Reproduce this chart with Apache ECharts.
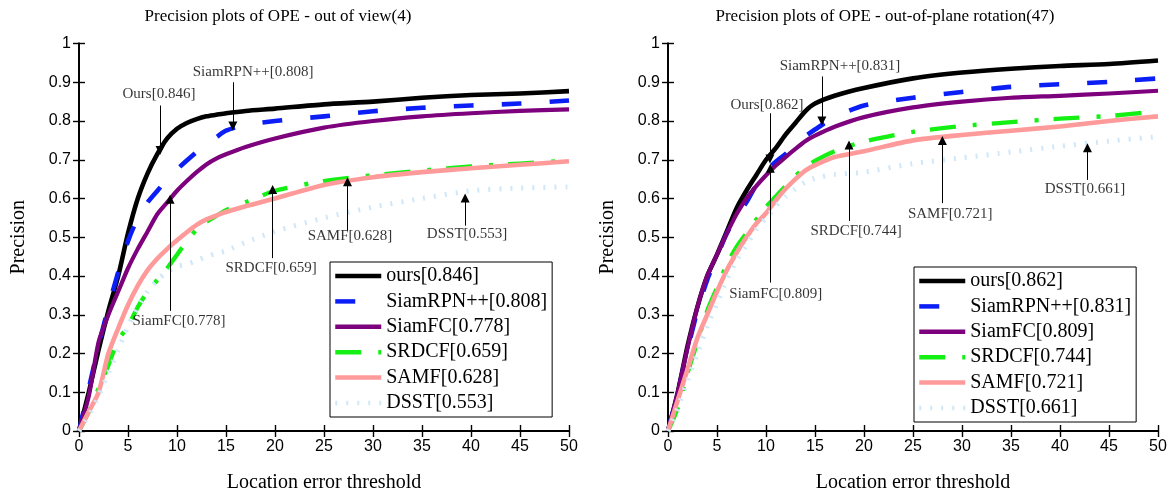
<!DOCTYPE html>
<html>
<head>
<meta charset="utf-8">
<title>Precision plots of OPE</title>
<script src="https://cdn.jsdelivr.net/npm/echarts@6/dist/echarts.min.js"></script>
<style>
  html, body { margin: 0; padding: 0; background: #fff; }
  #chart { width: 1171px; height: 498px; }
</style>
</head>
<body>
<div id="chart"></div>
<script>
// Location error thresholds (pixels) at which precision is sampled
const thresholds = [0, 1, 2, 3, 4, 5, 6, 7, 8, 9, 10, 11, 12, 13, 14, 15, 17, 20, 25, 30, 35, 40, 45, 50];

// ---- Out of view (4) ----
const titleOV = 'Precision plots of OPE - out of view(4)';
const namesOV = ['ours[0.846]', 'SiamRPN++[0.808]', 'SiamFC[0.778]', 'SRDCF[0.659]', 'SAMF[0.628]', 'DSST[0.553]'];
const oursOV     = [0, 0.10, 0.21, 0.31, 0.40, 0.51, 0.60, 0.665, 0.715, 0.755, 0.78, 0.795, 0.805, 0.812, 0.816, 0.82, 0.826, 0.832, 0.843, 0.85, 0.86, 0.867, 0.871, 0.877];
const siamrpnOV  = [0, 0.11, 0.22, 0.32, 0.41, 0.49, 0.55, 0.59, 0.62, 0.65, 0.675, 0.698, 0.72, 0.74, 0.758, 0.775, 0.79, 0.80, 0.812, 0.825, 0.834, 0.84, 0.845, 0.853];
const siamfcOV   = [0, 0.09, 0.23, 0.30, 0.36, 0.42, 0.47, 0.515, 0.56, 0.59, 0.62, 0.645, 0.668, 0.688, 0.703, 0.714, 0.733, 0.755, 0.783, 0.80, 0.812, 0.82, 0.826, 0.83];
const srdcfOV    = [0, 0.05, 0.11, 0.17, 0.235, 0.27, 0.32, 0.36, 0.39, 0.42, 0.455, 0.49, 0.52, 0.54, 0.555, 0.57, 0.59, 0.62, 0.645, 0.66, 0.672, 0.683, 0.69, 0.698];
const samfOV     = [0, 0.05, 0.10, 0.20, 0.265, 0.325, 0.375, 0.415, 0.445, 0.47, 0.492, 0.513, 0.532, 0.546, 0.556, 0.565, 0.58, 0.60, 0.635, 0.655, 0.668, 0.678, 0.687, 0.696];
const dsstOV     = [0, 0.04, 0.09, 0.15, 0.21, 0.27, 0.32, 0.36, 0.39, 0.41, 0.425, 0.43, 0.44, 0.45, 0.458, 0.465, 0.487, 0.515, 0.55, 0.578, 0.60, 0.62, 0.627, 0.63];
// callouts: text, text centre (x, y), arrow x, arrow start y, arrow tip y
const noteTextOV  = ['Ours[0.846]', 'SiamRPN++[0.808]', 'SiamFC[0.778]', 'SRDCF[0.659]', 'SAMF[0.628]', 'DSST[0.553]'];
const noteXOV     = [8.16, 17.76, 10.2, 19.6, 27.65, 39.6];
const noteYOV     = [0.870, 0.926, 0.285, 0.421, 0.504, 0.509];
const arrowXOV    = [8.27, 15.7, 9.29, 19.76, 27.4, 39.4];
const arrowFromOV = [0.84, 0.90, 0.31, 0.446, 0.517, 0.53];
const arrowToOV   = [0.724, 0.787, 0.598, 0.623, 0.643, 0.601];

// ---- Out-of-plane rotation (47) ----
const titleOPR = 'Precision plots of OPE - out-of-plane rotation(47)';
const namesOPR = ['ours[0.862]', 'SiamRPN++[0.831]', 'SiamFC[0.809]', 'SRDCF[0.744]', 'SAMF[0.721]', 'DSST[0.661]'];
const oursOPR    = [0, 0.10, 0.22, 0.32, 0.40, 0.455, 0.515, 0.575, 0.62, 0.66, 0.70, 0.73, 0.765, 0.795, 0.825, 0.845, 0.865, 0.885, 0.91, 0.925, 0.935, 0.942, 0.947, 0.956];
const siamrpnOPR = [0, 0.10, 0.21, 0.31, 0.39, 0.45, 0.51, 0.555, 0.59, 0.635, 0.67, 0.695, 0.715, 0.74, 0.76, 0.778, 0.81, 0.84, 0.86, 0.875, 0.888, 0.895, 0.901, 0.91];
const siamfcOPR  = [0, 0.10, 0.215, 0.32, 0.40, 0.455, 0.51, 0.56, 0.60, 0.632, 0.66, 0.685, 0.707, 0.728, 0.748, 0.762, 0.785, 0.81, 0.835, 0.85, 0.86, 0.865, 0.871, 0.878];
const srdcfOPR   = [0, 0.06, 0.15, 0.23, 0.31, 0.37, 0.43, 0.475, 0.51, 0.545, 0.578, 0.605, 0.632, 0.658, 0.68, 0.697, 0.722, 0.747, 0.772, 0.787, 0.797, 0.806, 0.813, 0.825];
const samfOPR    = [0, 0.08, 0.16, 0.24, 0.30, 0.36, 0.415, 0.46, 0.50, 0.535, 0.562, 0.595, 0.625, 0.65, 0.672, 0.686, 0.707, 0.722, 0.75, 0.764, 0.775, 0.786, 0.80, 0.812];
const dsstOPR    = [0, 0.06, 0.13, 0.20, 0.27, 0.33, 0.39, 0.44, 0.48, 0.52, 0.55, 0.58, 0.605, 0.625, 0.642, 0.652, 0.662, 0.668, 0.69, 0.705, 0.72, 0.735, 0.748, 0.76];
const noteTextOPR  = ['Ours[0.862]', 'SiamRPN++[0.831]', 'SiamFC[0.809]', 'SRDCF[0.744]', 'SAMF[0.721]', 'DSST[0.661]'];
const noteXOPR     = [10.1, 17.55, 11.0, 19.2, 28.8, 42.55];
const noteYOPR     = [0.84, 0.941, 0.353, 0.517, 0.56, 0.625];
const arrowXOPR    = [10.4, 15.7, 10.44, 18.47, 28.0, 42.8];
const arrowFromOPR = [0.82, 0.915, 0.383, 0.542, 0.588, 0.648];
const arrowToOPR   = [0.702, 0.80, 0.678, 0.738, 0.75, 0.731];

// Axis tick settings
const xMin = 0, xMax = 50, xStep = 5;
const yMin = 0, yMax = 1, yStep = 0.1;

const SERIF = "'Liberation Serif', 'Times New Roman', serif";
const SANS = "'Liberation Sans', Arial, sans-serif";

// Tracker line styles, drawn in this order (later ones on top)
const styles = [
  { color: '#000000', width: 4.6, type: 'solid' },
  { color: '#0a1ef5', width: 4.6, type: [20, 28] },
  { color: '#7d007d', width: 4.2, type: 'solid' },
  { color: '#14f014', width: 4.4, type: [26, 17, 4, 15] },
  { color: '#ff9a9a', width: 4.6, type: 'solid' },
  { color: '#cfe8f8', width: 5, type: [2, 9] }
];

const gridLeft = [79, 668];
const gridTop = 43.5, gridW = 490, gridH = 396.5;

function pairs(vals) { return thresholds.map((t, i) => [t, vals[i]]); }

const panels = [
  { title: titleOV, titleX: 278, names: namesOV,
    values: [oursOV, siamrpnOV, siamfcOV, srdcfOV, samfOV, dsstOV],
    noteText: noteTextOV, noteX: noteXOV, noteY: noteYOV,
    arrowX: arrowXOV, arrowFrom: arrowFromOV, arrowTo: arrowToOV,
    legendLeft: 330, legendTop: 262 },
  { title: titleOPR, titleX: 885, names: namesOPR,
    values: [oursOPR, siamrpnOPR, siamfcOPR, srdcfOPR, samfOPR, dsstOPR],
    noteText: noteTextOPR, noteX: noteXOPR, noteY: noteYOPR,
    arrowX: arrowXOPR, arrowFrom: arrowFromOPR, arrowTo: arrowToOPR,
    legendLeft: 914, legendTop: 267 }
];

const option = {
  backgroundColor: '#ffffff',
  animation: false,
  title: [], grid: [], xAxis: [], yAxis: [], legend: [], series: []
};

const axisLine = { show: true, lineStyle: { color: '#000', width: 1.8 } };
const axisTick = { show: true, inside: true, length: 6, lineStyle: { color: '#000', width: 1.4 } };

panels.forEach((p, g) => {
  option.title.push({
    text: p.title, left: p.titleX, top: 8, padding: 0, textAlign: 'center',
    textStyle: { fontFamily: SERIF, fontSize: 17, fontWeight: 'normal', color: '#000' }
  });
  option.grid.push({ left: gridLeft[g], top: gridTop, width: gridW, height: gridH });

  // bottom + top x axes, left + right y axes form the closed box
  option.xAxis.push({
    gridIndex: g, type: 'value', min: xMin, max: xMax, interval: xStep, position: 'bottom',
    axisLine, axisTick, splitLine: { show: false },
    axisLabel: { fontFamily: SANS, fontSize: 16, color: '#000', margin: 8 },
    name: 'Location error threshold', nameLocation: 'middle', nameGap: 42,
    nameTextStyle: { fontFamily: SERIF, fontSize: 20, color: '#000' }
  });
  option.xAxis.push({
    gridIndex: g, type: 'value', min: xMin, max: xMax, interval: xStep, position: 'top',
    axisLine, axisTick, splitLine: { show: false }, axisLabel: { show: false }
  });
  option.yAxis.push({
    gridIndex: g, type: 'value', min: yMin, max: yMax, interval: yStep, position: 'left',
    axisLine, axisTick, splitLine: { show: false },
    axisLabel: { fontFamily: SANS, fontSize: 16, color: '#000', margin: 8,
      formatter: v => String(Math.round(v * 10) / 10) },
    name: 'Precision', nameLocation: 'middle', nameGap: 50,
    nameTextStyle: { fontFamily: SERIF, fontSize: 20, color: '#000' }
  });
  option.yAxis.push({
    gridIndex: g, type: 'value', min: yMin, max: yMax, interval: yStep, position: 'right',
    axisLine, axisTick, splitLine: { show: false }, axisLabel: { show: false }
  });

  const xi = g * 2, yi = g * 2;
  p.names.forEach((name, k) => {
    const st = styles[k];
    option.series.push({
      name, type: 'line', xAxisIndex: xi, yAxisIndex: yi,
      data: pairs(p.values[k]),
      smooth: 0.25,
      symbol: 'none', showSymbol: false,
      lineStyle: { color: st.color, width: st.width, type: st.type, cap: 'butt', join: 'round' },
      itemStyle: { color: st.color },
      emphasis: { disabled: true }, silent: true, clip: true
    });
  });

  // callout texts
  option.series.push({
    name: 'callout-text-' + g, type: 'scatter', xAxisIndex: xi, yAxisIndex: yi,
    symbolSize: 0, silent: true, z: 5,
    data: p.noteText.map((t, k) => ({ value: [p.noteX[k], p.noteY[k]], name: t })),
    label: { show: true, position: 'inside', formatter: '{b}',
      fontFamily: SERIF, fontSize: 15, color: '#000' }
  });
  // callout arrows
  option.series.push({
    name: 'callout-arrow-' + g, type: 'line', xAxisIndex: xi, yAxisIndex: yi,
    data: [], silent: true, z: 5, symbol: 'none',
    itemStyle: { color: '#000' },
    markLine: {
      silent: true, symbol: ['none', 'triangle'], symbolSize: 9,
      label: { show: false },
      itemStyle: { color: '#000' },
      lineStyle: { color: '#000', width: 1, type: 'solid' },
      emphasis: { disabled: true },
      data: p.arrowX.map((ax, k) => [
        { coord: [ax, p.arrowFrom[k]] },
        { coord: [ax, p.arrowTo[k]] }
      ])
    }
  });

  option.legend.push({
    data: p.names, orient: 'vertical', left: p.legendLeft, top: p.legendTop,
    itemWidth: 46, itemHeight: 14, itemGap: 5.4,
    padding: [4, 5, 4, 3],
    borderColor: '#000', borderWidth: 1, backgroundColor: '#fff',
    selectedMode: false,
    // only the line sample is shown, the marker dot is made invisible
    itemStyle: { color: 'rgba(0,0,0,0)', borderColor: 'rgba(0,0,0,0)', borderWidth: 0 },
    lineStyle: { width: 4.5 },
    textStyle: { fontFamily: SERIF, fontSize: 20, color: '#000', lineHeight: 20 }
  });
});

const chart = echarts.init(document.getElementById('chart'), null, { renderer: 'canvas' });
chart.setOption(option);
</script>
</body>
</html>
